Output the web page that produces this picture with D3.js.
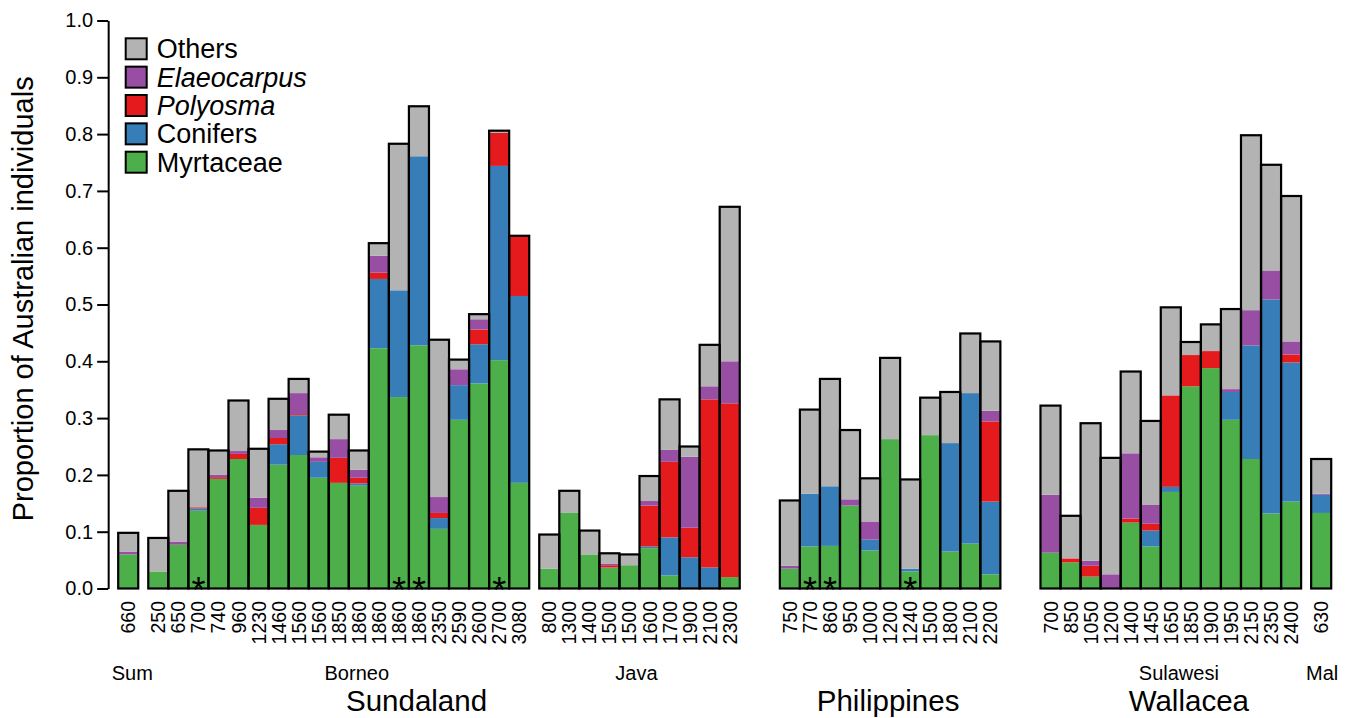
<!DOCTYPE html>
<html>
<head>
<meta charset="utf-8">
<script src="https://cdn.jsdelivr.net/npm/d3@7"></script>
<style>
  body { margin: 0; background: #fff; }
  svg { display: block; font-family: "Liberation Sans", Arial, Helvetica, sans-serif; }
</style>
</head>
<body>
<svg id="chart" width="1351" height="718"></svg>
<script>
// elevation (m) of each plot, left to right
const elevations = ["660",
  "250","650","700","740","960","1230","1460","1560","1560","1850","1860","1860","1860","1860","2350","2590","2600","2700","3080",
  "800","1300","1400","1500","1500","1600","1700","1900","2100","2300",
  "750","770","860","950","1000","1200","1240","1500","1800","2100","2200",
  "700","850","1050","1200","1400","1450","1650","1850","1900","1950","2150","2350","2400",
  "630"];

// groups of plots (Sum, Borneo, Java, Philippines, Sulawesi, Mal)
const groupNames = ["Sum", "Borneo", "Java", "Philippines", "Sulawesi", "Mal"];
const groupSizes = [1, 19, 10, 11, 13, 1];

// proportions, one value per plot
const myrtaceae = [0.060,
  0.030,0.077,0.137,0.193,0.228,0.112,0.218,0.235,0.195,0.186,0.181,0.423,0.337,0.428,0.105,0.297,0.361,0.402,0.186,
  0.035,0.133,0.060,0.037,0.041,0.071,0.023,0.000,0.000,0.020,
  0.035,0.074,0.075,0.146,0.067,0.263,0.030,0.270,0.065,0.079,0.025,
  0.063,0.046,0.021,0.000,0.116,0.074,0.170,0.356,0.388,0.297,0.228,0.132,0.153,
  0.133];
const conifers = [0,
  0,0,0.004,0,0,0,0.036,0.070,0.028,0,0.004,0.122,0.188,0.333,0.019,0.061,0.069,0.342,0.329,
  0,0,0,0,0,0.003,0.067,0.055,0.037,0,
  0,0.093,0.105,0,0.019,0,0.005,0,0.191,0.265,0.128,
  0,0,0,0,0,0.028,0.009,0,0,0.049,0.200,0.377,0.245,
  0.032];
const polyosma = [0,
  0,0,0.002,0.003,0.009,0.030,0.011,0.002,0,0.044,0.010,0.011,0,0,0.009,0,0.026,0.058,0.106,
  0,0,0,0.004,0,0.072,0.133,0.052,0.296,0.306,
  0,0,0,0,0,0,0,0,0,0,0.141,
  0,0.007,0.019,0,0.007,0.012,0.161,0.055,0.030,0,0,0,0.014,
  0];
const elaeocarpus = [0.005,
  0,0.005,0,0.004,0.005,0.018,0.014,0.037,0.008,0.033,0.014,0.030,0,0,0.028,0.028,0.018,0,0,
  0,0,0,0.003,0,0.008,0.021,0.125,0.023,0.074,
  0.005,0,0,0.011,0.032,0,0,0,0,0,0.019,
  0.102,0,0.009,0.025,0.115,0.033,0,0,0,0.005,0.062,0.051,0.023,
  0.002];
const others = [0.033,
  0.059,0.090,0.102,0.043,0.089,0.086,0.055,0.025,0.010,0.043,0.034,0.022,0.258,0.088,0.277,0.017,0.009,0.004,0,
  0.060,0.039,0.042,0.018,0.019,0.044,0.089,0.018,0.073,0.272,
  0.115,0.148,0.189,0.122,0.076,0.143,0.157,0.066,0.090,0.105,0.122,
  0.157,0.075,0.242,0.205,0.144,0.148,0.155,0.023,0.047,0.141,0.308,0.186,0.256,
  0.061];

// plots marked with an asterisk
const starred = [3, 13, 14, 18, 31, 32, 36];

const seriesNames = ["Myrtaceae", "Conifers", "Polyosma", "Elaeocarpus", "Others"];
const seriesColors = ["#4DAF4A", "#377EB8", "#E41A1C", "#984EA3", "#B3B3B3"];
const italicSeries = ["Polyosma", "Elaeocarpus"];

// sub-region and region labels, placed in bar units
const subLabels = [["Sum", 0.7], ["Borneo", 11.9], ["Java", 25.85], ["Sulawesi", 52.9], ["Mal", 60.05]];
const regionLabels = [["Sundaland", 14.88], ["Philippines", 38.4], ["Wallacea", 53.4]];

const gapBefore = [0, 0.5, 0.5, 2, 2, 0.5];

const svg = d3.select("#chart");

// left edge of each bar, in bar units
const slots = [];
let u = 0;
groupSizes.forEach((n, g) => {
  u += gapBefore[g];
  for (let i = 0; i < n; i++) { slots.push(u); u += 1; }
});

const x = d3.scaleLinear().domain([0, u]).range([118.2, 1331.2]);
const y = d3.scaleLinear().domain([0, 1]).range([588.5, 20.5]);
const bw = x(1) - x(0);

const rows = elevations.map((e, i) => ({
  i: i, elev: e,
  Myrtaceae: myrtaceae[i], Conifers: conifers[i], Polyosma: polyosma[i],
  Elaeocarpus: elaeocarpus[i], Others: others[i]
}));

const stack = d3.stack().keys(seriesNames)(rows);

svg.append("g").selectAll("g").data(stack).enter().append("g")
  .attr("fill", (d, k) => seriesColors[k])
  .selectAll("rect").data(d => d).enter().append("rect")
  .attr("x", d => x(slots[d.data.i]))
  .attr("width", bw)
  .attr("y", d => y(d[1]))
  .attr("height", d => y(d[0]) - y(d[1]));

// outline of every bar
const totals = stack[stack.length - 1];
svg.append("g").selectAll("rect").data(totals).enter().append("rect")
  .attr("x", d => x(slots[d.data.i]))
  .attr("width", bw)
  .attr("y", d => y(d[1]))
  .attr("height", d => y(0) - y(d[1]))
  .attr("fill", "none")
  .attr("stroke", "#000")
  .attr("stroke-width", 2.2);

// asterisks
svg.append("g").selectAll("text").data(starred).enter().append("text")
  .attr("x", i => x(slots[i] + 0.5))
  .attr("y", 603)
  .attr("text-anchor", "middle")
  .attr("font-size", 36)
  .text("*");

// y axis
const yAxis = svg.append("g")
  .attr("transform", `translate(${x(-0.5)},0)`)
  .call(d3.axisLeft(y).tickValues(d3.range(0, 1.01, 0.1)).tickFormat(d3.format(".1f"))
    .tickSize(11).tickSizeOuter(0).tickPadding(4));
yAxis.selectAll("path, line").attr("stroke", "#000").attr("stroke-width", 2);
yAxis.selectAll("text").attr("font-size", 20).attr("fill", "#000").style("font-family", "inherit");

svg.append("text")
  .attr("transform", `translate(33,${y(0.51)}) rotate(-90)`)
  .attr("text-anchor", "middle")
  .attr("font-size", 29)
  .text("Proportion of Australian individuals");

// elevation labels
svg.append("g").selectAll("text").data(rows).enter().append("text")
  .attr("transform", d => `translate(${x(slots[d.i] + 0.5)},601) rotate(-90)`)
  .attr("dy", "0.36em")
  .attr("text-anchor", "end")
  .attr("font-size", 19.5)
  .text(d => d.elev);

svg.append("g").selectAll("text").data(subLabels).enter().append("text")
  .attr("x", d => x(d[1]))
  .attr("y", 680)
  .attr("text-anchor", "middle")
  .attr("font-size", 20)
  .text(d => d[0]);

svg.append("g").selectAll("text").data(regionLabels).enter().append("text")
  .attr("x", d => x(d[1]))
  .attr("y", 711)
  .attr("text-anchor", "middle")
  .attr("font-size", 29.5)
  .text(d => d[0]);

// legend, top entry first
const legend = svg.append("g").attr("transform", "translate(125.7,38.3)");
const items = seriesNames.slice().reverse();
const itemColors = seriesColors.slice().reverse();
const li = legend.selectAll("g").data(items).enter().append("g")
  .attr("transform", (d, k) => `translate(0,${k * 28.35})`);
li.append("rect")
  .attr("width", 21).attr("height", 21)
  .attr("fill", (d, k) => itemColors[k])
  .attr("stroke", "#000").attr("stroke-width", 2);
li.append("text")
  .attr("x", 31).attr("y", 20)
  .attr("font-size", 27)
  .attr("font-style", d => italicSeries.includes(d) ? "italic" : "normal")
  .text(d => d);
</script>
</body>
</html>
